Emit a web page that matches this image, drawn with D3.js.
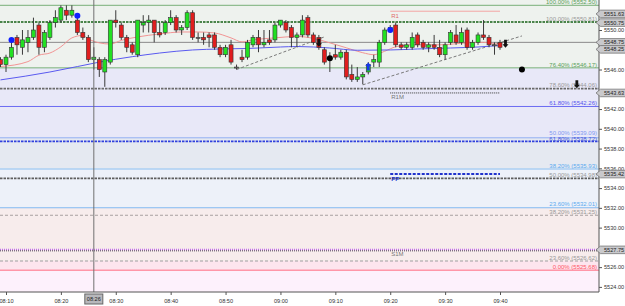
<!DOCTYPE html>
<html>
<head>
<meta charset="utf-8">
<script src="https://cdn.jsdelivr.net/npm/d3@7"></script>
<style>
body { margin: 0; background: #fff; }
svg { display: block; font-family: "Liberation Sans", Arial, sans-serif; }
</style>
</head>
<body>
<svg width="625" height="306"></svg>
<script>
// 1-minute bars starting 08:09
var firstBar = "08:09";
var opens  = [5547.0,5546.5,5547.25,5549.25,5548.25,5548.75,5549.25,5550.5,5548.25,5549.25,5550.75,5551.0,5552.0,5551.5,5551.0,5549.75,5549.25,5547.0,5547.0,5545.75,
              5546.75,5551.0,5550.5,5549.25,5548.5,5547.5,5550.5,5550.75,5551.0,5549.75,5549.75,5550.75,5551.25,5550.0,5550.25,5551.75,5549.25,5549.25,5549.5,5549.5,
              5548.25,5547.5,5548.5,5546.25,5547.25,5547.25,5548.5,5549.25,5548.5,5549.0,5549.0,5550.5,5550.75,5550.25,5549.25,5549.5,5551.25,5549.5,5549.25,5548.0,
              5547.0,5547.5,5547.25,5547.75,5545.5,5545.0,5545.25,5545.75,5546.75,5546.75,5548.75,5550.0,5550.5,5548.5,5548.25,5548.25,5549.5,5548.75,5548.25,5548.5,
              5548.25,5547.5,5548.75,5549.5,5548.75,5550.0,5548.25,5548.75,5549.5,5549.25,5548.5,5548.75];
var highs  = [5547.25,5547.5,5549.0,5549.5,5550.0,5550.0,5551.25,5550.75,5550.0,5551.0,5552.0,5552.5,5552.5,5552.5,5551.5,5550.25,5549.5,5548.25,5547.25,5547.25,
              5551.0,5552.0,5550.75,5549.5,5548.75,5551.0,5551.5,5551.5,5551.0,5550.75,5551.0,5552.0,5551.5,5550.5,5552.0,5552.0,5549.75,5549.75,5549.75,5549.75,
              5548.5,5548.5,5549.0,5546.5,5548.0,5549.0,5549.5,5550.0,5550.0,5550.0,5550.75,5551.0,5551.0,5550.5,5549.75,5551.5,5551.5,5549.75,5549.5,5548.25,
              5547.75,5548.5,5548.0,5548.0,5546.5,5546.25,5545.75,5546.75,5547.5,5549.0,5550.25,5550.5,5550.75,5548.75,5548.75,5549.75,5549.75,5549.0,5548.75,5549.5,
              5549.0,5548.75,5550.0,5550.5,5550.25,5550.25,5549.0,5549.75,5551.0,5549.5,5548.75,5549.0];
var lows   = [5546.25,5545.75,5547.0,5547.5,5547.5,5547.75,5549.0,5547.5,5547.75,5549.0,5550.25,5550.75,5551.0,5551.25,5549.5,5549.0,5546.75,5546.0,5545.25,5544.25,
              5546.5,5550.25,5549.0,5547.75,5547.5,5547.25,5549.75,5549.75,5548.75,5549.25,5549.5,5550.5,5549.75,5549.5,5550.0,5549.0,5548.75,5548.5,5548.25,5548.0,
              5547.25,5547.25,5546.5,5546.0,5546.75,5547.0,5548.25,5547.75,5548.25,5548.5,5548.75,5550.25,5549.75,5548.25,5548.25,5549.25,5549.25,5548.5,5548.0,5546.5,
              5545.75,5547.0,5547.0,5545.0,5544.75,5544.75,5544.5,5545.5,5546.25,5546.25,5548.5,5549.75,5548.25,5548.0,5548.0,5548.0,5548.25,5548.0,5547.75,5548.0,
              5547.25,5547.0,5548.5,5548.5,5548.5,5548.0,5548.0,5548.5,5549.0,5548.25,5547.5,5548.0];
var closes = [5546.5,5547.25,5548.25,5548.5,5549.0,5549.25,5550.0,5548.25,5549.75,5550.75,5551.25,5552.25,5551.5,5552.0,5549.75,5549.25,5547.0,5547.25,5546.0,5547.0,
              5551.0,5550.75,5549.25,5548.25,5547.75,5551.0,5550.75,5551.0,5549.75,5549.5,5550.75,5551.25,5550.0,5550.25,5551.75,5549.25,5549.25,5549.0,5549.25,5548.25,
              5547.5,5548.25,5546.75,5546.25,5547.0,5548.75,5549.25,5548.5,5548.75,5548.75,5550.5,5551.0,5550.0,5549.25,5549.5,5551.0,5549.5,5548.75,5548.25,5546.75,
              5547.25,5547.25,5547.75,5545.25,5545.0,5545.25,5545.5,5546.5,5547.0,5548.75,5550.0,5550.25,5548.5,5548.25,5548.5,5549.25,5548.5,5548.25,5548.5,5548.25,
              5547.5,5548.5,5549.75,5548.75,5549.75,5548.25,5548.75,5549.5,5549.25,5548.5,5548.5,5548.25];

// moving averages, read at bar indexes
var redMaIdx = [0,5,7,9,11,13,15,16,18,20,22,25,29,33,36,39,42,44,46,50,54,57,60,63,66,68,70,72,75,80,85,88,91];
var redMa    = [5546.3,5546.8,5547.45,5547.67,5548.3,5549.2,5549.45,5549.1,5548.7,5548.58,5548.95,5549.3,5549.6,5549.8,5549.8,5549.7,5549.2,5548.8,5549.0,5549.2,5549.35,5549.15,5548.7,5548.2,5547.7,5547.5,5547.85,5548.3,5548.5,5548.5,5548.7,5548.75,5548.5];
var blueMaIdx = [0,9,14,18,24,29,35,40,45,51,54,60,65,71,76,82,87,91];
var blueMa    = [5544.95,5545.75,5546.3,5546.75,5547.3,5547.67,5547.98,5548.08,5548.13,5548.28,5548.33,5548.18,5547.95,5547.98,5548.08,5548.18,5548.28,5548.43];

// fibonacci set A (solid) and set B (dashed)
var fibAPct   = ["100.00%","76.40%","61.80%","50.00%","38.20%","23.60%","0.00%"];
var fibAPrice = [5552.50,5546.17,5542.26,5539.09,5535.93,5532.01,5525.68];
var fibBPct   = ["100.00%","78.60%","61.80%","50.00%","38.20%","23.60%"];
var fibBPrice = [5550.81,5544.06,5538.72,5534.98,5531.25,5526.62];

// pivot levels drawn from 09:20 to 09:40
var pivotNames  = ["R1","R1M","PP","S1M"];
var pivotPrices = [5551.9,5543.63,5535.42,5527.75];

var lastPrice = 5548.75;
var tagValues = [5551.63,5550.75,5548.75,5548.25,5543.63,5535.42,5527.75];

// trend lines
var trendFromTime = ["08:52","09:15"], trendFromPrice = [5546.0,5544.45];
var trendToTime   = ["09:08","09:44"], trendToPrice   = [5549.3,5549.4];

// signal markers
var markTime  = ["08:11","08:23","09:20","09:16","09:07","09:09","09:41","09:44","09:54"];
var markPrice = [5549.0,5551.45,5550.0,5546.3,5548.7,5547.15,5548.6,5546.0,5544.5];
var markType  = ["bdot","bdot","bdot","bup","kdown","kdot","kdown","kdot","kdown"];

var crossTime = "08:26";

function tm(s) {
    var p = s.split(":");
    return new Date(2024, 0, 2, +p[0], +p[1]);
}

var svg = d3.select("svg");
var W = 599, H = 292;

var x = d3.scaleTime().domain([tm("08:10"), tm("09:40")]).range([6, 500]);
var y = d3.scaleLinear().domain([5552.5, 5525.68]).range([5.3, 270.3]);

var bars = opens.map(function(o, i) {
    return {t: d3.timeMinute.offset(tm(firstBar), i), o: o, h: highs[i], l: lows[i], c: closes[i]};
});

svg.append("defs").append("clipPath").attr("id", "plot")
    .append("rect").attr("width", W).attr("height", H);

var g = svg.append("g").attr("clip-path", "url(#plot)");

// background bands between fib levels
var bandEdges = [5560, fibAPrice[1], fibAPrice[3], fibAPrice[4], fibAPrice[5], fibBPrice[5], fibAPrice[6], 5500];
var bandFill = ["#eef2ee","#e8e8f8","#e5e9f1","#edf1f9","#f7ecec","#fde5ee","#fdf1fc"];
bandFill.forEach(function(f, i) {
    g.append("rect").attr("x", 0).attr("width", W)
        .attr("y", y(bandEdges[i])).attr("height", y(bandEdges[i + 1]) - y(bandEdges[i]))
        .attr("fill", f);
});

// fib set B lines (dashed)
var fibBStroke = ["#4a844a","#6a6a6a","#3040dd","#5e5e5e","#a8a0a0","#a0a0a0"];
var fibBWidth  = [2, 1.8, 1.8, 1.8, 1, 1];
var fibBText   = ["#999","#999","#4455dd","#999","#999","#999"];
fibBPrice.forEach(function(p, i) {
    g.append("line").attr("x1", 0).attr("x2", W).attr("y1", y(p)).attr("y2", y(p))
        .attr("stroke", fibBStroke[i]).attr("stroke-width", fibBWidth[i])
        .attr("stroke-dasharray", fibBWidth[i] > 1 ? "2.5,1" : "3,2");
});

// fib set A lines (solid)
var fibAStroke = ["#78b078","#78b078","#6a6af2","#90aef2","#8ec0f2","#80b8f2","#ff96a8"];
var fibAText   = ["#5aa05a","#5aa05a","#5555ee","#7f98f0","#5aaaf0","#5aaaf0","#ff5566"];
fibAPrice.forEach(function(p, i) {
    g.append("line").attr("x1", 0).attr("x2", W).attr("y1", y(p)).attr("y2", y(p))
        .attr("stroke", fibAStroke[i]).attr("stroke-width", i == 6 ? 1.5 : 1);
});

// last price line
g.append("line").attr("x1", 0).attr("x2", W).attr("y1", y(lastPrice)).attr("y2", y(lastPrice))
    .attr("stroke", "#8a8a8a");

// S1M runs the full width
g.append("line").attr("x1", 0).attr("x2", W).attr("y1", y(pivotPrices[3])).attr("y2", y(pivotPrices[3]))
    .attr("stroke", "#c070e8").attr("stroke-width", 2).attr("stroke-dasharray", "1,1");
g.append("line").attr("x1", 0).attr("x2", W).attr("y1", y(pivotPrices[3]) + 1).attr("y2", y(pivotPrices[3]) + 1)
    .attr("stroke", "#555").attr("stroke-width", 1).attr("stroke-dasharray", "1,1");

// other pivots, short segments
var pivStroke = ["#f4a6a6","#333","#2233cc"];
var pivDash   = [null, "1,1", "3,1.5"];
var pivWidth  = [1, 1, 2];
var px1 = x(tm("09:20")), px2 = x(tm("09:40"));
[0, 1, 2].forEach(function(i) {
    g.append("line").attr("x1", px1).attr("x2", px2)
        .attr("y1", y(pivotPrices[i])).attr("y2", y(pivotPrices[i]))
        .attr("stroke", pivStroke[i]).attr("stroke-width", pivWidth[i])
        .attr("stroke-dasharray", pivDash[i]);
});
var pivText = ["#e06a6a","#777","#2233cc","#777"];
pivotNames.forEach(function(n, i) {
    g.append("text").attr("x", px1 + 1).attr("y", y(pivotPrices[i]) + 6.5)
        .attr("font-size", 6).attr("fill", pivText[i]).attr("font-weight", i == 2 ? "bold" : null)
        .text(n);
});

// fib labels (the two close 50%/61.8% labels are nudged apart a little)
fibAPrice.forEach(function(p, i) {
    g.append("text").attr("x", 597).attr("y", y(p) - (i == 3 ? 3 : 1.3)).attr("text-anchor", "end")
        .attr("font-size", 6).attr("fill", fibAText[i])
        .text(fibAPct[i] + " (" + p.toFixed(2) + ")");
});
fibBPrice.forEach(function(p, i) {
    g.append("text").attr("x", 597).attr("y", y(p) - (i == 2 ? 0.6 : 1.3)).attr("text-anchor", "end")
        .attr("font-size", 6).attr("fill", fibBText[i])
        .text(fibBPct[i] + " (" + p.toFixed(2) + ")");
});

// trend lines
trendFromTime.forEach(function(t, i) {
    g.append("line")
        .attr("x1", x(tm(t))).attr("y1", y(trendFromPrice[i]))
        .attr("x2", x(tm(trendToTime[i]))).attr("y2", y(trendToPrice[i]))
        .attr("stroke", "#7a7a7a").attr("stroke-dasharray", "3,2");
});

// moving averages
var maLine = d3.line().curve(d3.curveMonotoneX)
    .x(function(d) { return x(d3.timeMinute.offset(tm(firstBar), d[0])); })
    .y(function(d) { return y(d[1]); });
g.append("path").attr("fill", "none").attr("stroke", "#f29494").attr("stroke-width", 1)
    .attr("d", maLine(redMaIdx.map(function(k, i) { return [k, redMa[i]]; })));
g.append("path").attr("fill", "none").attr("stroke", "#5a5af0").attr("stroke-width", 1)
    .attr("d", maLine(blueMaIdx.map(function(k, i) { return [k, blueMa[i]]; })));

// crosshair
var cx = x(tm(crossTime));
svg.append("line").attr("x1", cx).attr("x2", cx).attr("y1", 0).attr("y2", H)
    .attr("stroke", "#707070");

// candles
var cg = g.append("g");
cg.selectAll("line.wick").data(bars).enter().append("line")
    .attr("class", "wick")
    .attr("x1", function(d) { return x(d.t); }).attr("x2", function(d) { return x(d.t); })
    .attr("y1", function(d) { return y(d.h); }).attr("y2", function(d) { return y(d.l); })
    .attr("stroke", "#3a3a3a");
cg.selectAll("rect").data(bars).enter().append("rect")
    .attr("x", function(d) { return x(d.t) - 2; })
    .attr("width", 4)
    .attr("y", function(d) { return y(Math.max(d.o, d.c)); })
    .attr("height", function(d) { return Math.max(1, Math.abs(y(d.o) - y(d.c))); })
    .attr("fill", function(d) { return d.c > d.o ? "#22e022" : (d.c < d.o ? "#e01e1e" : "#888"); })
    .attr("stroke", "#333").attr("stroke-width", 0.6);

// markers
markTime.forEach(function(t, i) {
    var mx = x(tm(t)), my = y(markPrice[i]), k = markType[i];
    if (k == "bdot" || k == "kdot") {
        g.append("circle").attr("cx", mx).attr("cy", my).attr("r", 3)
            .attr("fill", k == "bdot" ? "#1020ff" : "#000");
    } else if (k == "bup") {
        g.append("path").attr("fill", "#1838e8")
            .attr("d", "M" + mx + "," + (my - 4) + "l3,3.5h-1.6v4.5h-2.8v-4.5h-1.6z");
    } else {
        g.append("path").attr("fill", "#111")
            .attr("d", "M" + mx + "," + (my + 4) + "l3,-3.5h-1.6v-4.5h-2.8v4.5h-1.6z");
    }
});

// price tags positions, pushed apart when they collide
var tagY = tagValues.map(function(v) { return y(v); });
for (var k = 1; k < tagY.length; k++) {
    if (tagY[k] - tagY[k - 1] < 7) tagY[k] = tagY[k - 1] + 7;
}

// axes
svg.append("line").attr("x1", 0).attr("x2", W).attr("y1", H).attr("y2", H).attr("stroke", "#555");
svg.append("line").attr("x1", W).attr("x2", W).attr("y1", 0).attr("y2", H).attr("stroke", "#555");

var xAxis = svg.append("g").attr("transform", "translate(0," + H + ")")
    .call(d3.axisBottom(x).ticks(d3.timeMinute.every(10)).tickFormat(d3.timeFormat("%H:%M")).tickSize(3));
xAxis.select(".domain").remove();
xAxis.selectAll("line").attr("stroke", "#555");
xAxis.selectAll("text").attr("font-size", 5.6).attr("fill", "#333").attr("dy", "0.9em").attr("font-family", null);

// tick labels hidden by a price tag are left out
var yTicks = d3.range(5524, 5553, 2).filter(function(v) {
    return tagY.every(function(ty) { return Math.abs(ty - y(v)) > 4.5; });
});
var yAxis = svg.append("g").attr("transform", "translate(" + W + ",0)")
    .call(d3.axisRight(y).tickValues(yTicks).tickFormat(d3.format(".2f")).tickSize(3));
yAxis.select(".domain").remove();
yAxis.selectAll("line").attr("stroke", "#555");
yAxis.selectAll("text").attr("font-size", 5.6).attr("fill", "#333").attr("x", 5).attr("font-family", null);

// crosshair time label
var cl = svg.append("g").attr("transform", "translate(" + cx + "," + (H + 2) + ")");
cl.append("rect").attr("x", -9).attr("y", 0).attr("width", 18).attr("height", 10)
    .attr("fill", "#b8b8bc").attr("stroke", "#666");
cl.append("text").attr("x", 0).attr("y", 7).attr("text-anchor", "middle")
    .attr("font-size", 5.6).attr("fill", "#222").text(crossTime);

tagValues.forEach(function(v, i) {
    var tg = svg.append("g").attr("transform", "translate(0," + tagY[i] + ")");
    tg.append("path").attr("d", "M596,0L600.5,-3.8H627V3.8H600.5Z")
        .attr("fill", "#c9c9cc").attr("stroke", "#6a6a6a").attr("stroke-width", 0.7);
    tg.append("text").attr("x", 604).attr("y", 2).attr("font-size", 5.6).attr("fill", "#222")
        .text(v.toFixed(2));
});
</script>
</body>
</html>
